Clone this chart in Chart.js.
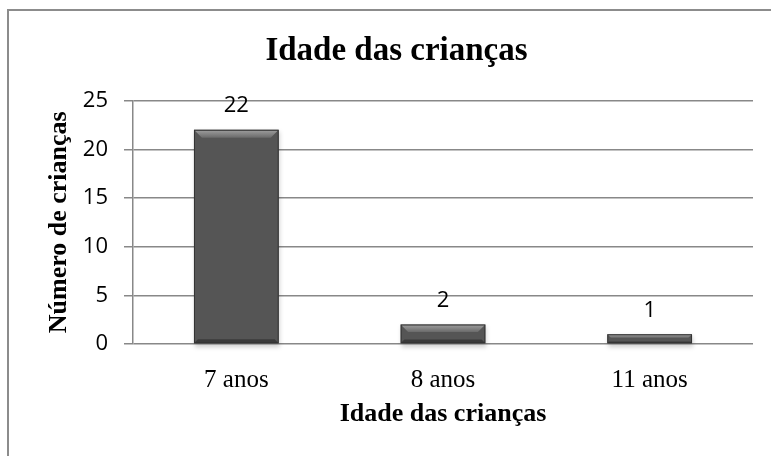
<!DOCTYPE html>
<html>
<head>
<meta charset="utf-8">
<script src="https://cdn.jsdelivr.net/npm/chart.js@4"></script>
<style>
  body { margin: 0; background: #fff; overflow: hidden; }
</style>
</head>
<body>
<canvas id="idadeChart" width="771" height="456"></canvas>
<script>
// Chart data
const categories = ['7 anos', '8 anos', '11 anos'];
const numeroCriancas = [22, 2, 1];
const yTicks = [0, 5, 10, 15, 20, 25];

const serif = '"Liberation Serif", "Times New Roman", serif';
const sans = '"Open Sans", "Liberation Sans", sans-serif';

// Bar fill: horizontal gradient, darker at the edges
function barFill(context) {
  const el = context.element;
  const ctx = context.chart.ctx;
  if (!el || !el.width) return '#555';
  const x0 = el.x - el.width / 2;
  const g = ctx.createLinearGradient(x0, 0, x0 + el.width, 0);
  g.addColorStop(0, '#3c3c3c');
  g.addColorStop(0.08, '#555555');
  g.addColorStop(0.5, '#5c5c5c');
  g.addColorStop(0.92, '#555555');
  g.addColorStop(1, '#3c3c3c');
  return g;
}

// outer frame (only left and top edges are visible in the picture)
const frame = {
  id: 'frame',
  beforeDraw(chart) {
    const c = chart.ctx;
    c.save();
    c.strokeStyle = '#8c8c8c';
    c.lineWidth = 2;
    c.beginPath();
    c.moveTo(8, chart.height + 5);
    c.lineTo(8, 10);
    c.lineTo(chart.width + 5, 10);
    c.stroke();
    c.restore();
  }
};

// Bevel on each bar + value labels
const bevelAndLabels = {
  id: 'bevelAndLabels',
  beforeDatasetsDraw(chart) {
    const ctx = chart.ctx;
    chart.getDatasetMeta(0).data.forEach(bar => {
      const x0 = bar.x - bar.width / 2;
      ctx.save();
      ctx.fillStyle = 'rgba(0,0,0,0.18)';
      ctx.filter = 'blur(2px)';
      ctx.fillRect(x0 + 1, bar.y + 2, bar.width, bar.base - bar.y + 2);
      ctx.restore();
    });
  },
  afterDatasetsDraw(chart) {
    const ctx = chart.ctx;
    const meta = chart.getDatasetMeta(0);
    meta.data.forEach((bar, i) => {
      const x0 = bar.x - bar.width / 2;
      const x1 = bar.x + bar.width / 2;
      const h = bar.base - bar.y;
      const b = Math.min(8, h / 2.5);
      ctx.save();
      // top bevel
      const g = ctx.createLinearGradient(0, bar.y, 0, bar.y + b);
      g.addColorStop(0, '#a0a0a0');
      g.addColorStop(1, '#6a6a6a');
      ctx.fillStyle = g;
      ctx.beginPath();
      ctx.moveTo(x0, bar.y);
      ctx.lineTo(x1, bar.y);
      ctx.lineTo(x1 - b, bar.y + b);
      ctx.lineTo(x0 + b, bar.y + b);
      ctx.closePath();
      ctx.fill();
      // bottom bevel
      ctx.fillStyle = 'rgba(40,40,40,0.6)';
      ctx.beginPath();
      ctx.moveTo(x0, bar.base);
      ctx.lineTo(x1, bar.base);
      ctx.lineTo(x1 - b / 2, bar.base - b / 2);
      ctx.lineTo(x0 + b / 2, bar.base - b / 2);
      ctx.closePath();
      ctx.fill();
      ctx.strokeStyle = '#333';
      ctx.lineWidth = 1;
      ctx.strokeRect(x0 + 0.5, bar.y + 0.5, bar.width - 1, h - 1);
      ctx.restore();

      // value label
      ctx.save();
      ctx.font = '22px ' + sans;
      ctx.fillStyle = '#000';
      ctx.textAlign = 'center';
      ctx.textBaseline = 'bottom';
      ctx.fillText(String(numeroCriancas[i]), bar.x, bar.y - 13);
      ctx.restore();
    });
  }
};

const ctx = document.getElementById('idadeChart').getContext('2d');
new Chart(ctx, {
  type: 'bar',
  data: {
    labels: categories,
    datasets: [{
      label: 'Número de crianças',
      data: numeroCriancas,
      backgroundColor: barFill,
      borderWidth: 0,
      barPercentage: 0.41,
      categoryPercentage: 1
    }]
  },
  options: {
    responsive: false,
    animation: false,
    layout: { padding: { left: 40, right: 18, top: 0, bottom: 0 } },
    plugins: {
      legend: { display: false },
      tooltip: { enabled: false },
      title: {
        display: true,
        text: 'Idade das crianças',
        color: '#000',
        font: { family: serif, size: 33, weight: 'bold' },
        padding: { top: 32, bottom: 29 }
      }
    },
    scales: {
      x: {
        grid: { display: false, drawTicks: false },
        border: { display: false },
        ticks: { color: '#000', font: { family: serif, size: 25 }, padding: 21 },
        title: {
          display: true,
          text: 'Idade das crianças',
          color: '#000',
          font: { family: serif, size: 26, weight: 'bold' },
          padding: { top: 0, bottom: 26 }
        },
        afterFit(scale) { scale.height = 112; }
      },
      y: {
        min: 0,
        max: 25,
        afterBuildTicks(scale) { scale.ticks = yTicks.map(v => ({ value: v })); },
        grid: { color: '#888', lineWidth: 1.5, tickLength: 9 },
        border: { color: '#888', width: 1.5 },
        ticks: { color: '#000', font: { family: sans, size: 22 }, padding: 16 },
        title: {
          display: true,
          text: 'Número de crianças',
          color: '#000',
          font: { family: serif, size: 26, weight: 'bold' },
          padding: { top: 4, bottom: 0 }
        },
        afterFit(scale) { scale.width = 93; }
      }
    }
  },
  plugins: [frame, bevelAndLabels]
});
</script>
</body>
</html>
